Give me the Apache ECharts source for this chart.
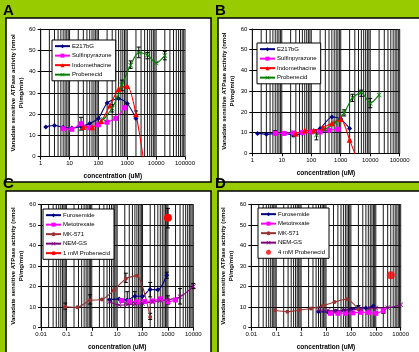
<!DOCTYPE html>
<html><head><meta charset="utf-8">
<script src="https://cdn.jsdelivr.net/npm/echarts@6/dist/echarts.min.js"></script>
<style>html,body{margin:0;padding:0;background:#99cc00;overflow:hidden}#c{width:419px;height:352px}</style>
</head><body><div id="c"></div>
<script>
// ---- Panel A ----
const aE217Conc = [1.5, 3, 6, 12, 25, 50, 100, 200, 500, 1000, 2000];
const aE217Val  = [14, 14.7, 13.8, 13.5, 14.2, 15.6, 18, 25.2, 27.3, 25, 18];
const aSulfConc = [6, 12, 25, 50, 100, 200, 400, 800];
const aSulfVal  = [13.2, 12.9, 15.5, 13.6, 15.0, 16.2, 18, 23];
const aIndoConc = [30, 60, 125, 250, 500, 1000, 2000, 4000];
const aIndoVal  = [14, 13.8, 16.8, 24, 31.8, 33.2, 20, -5];
const aProbConc = [150, 300, 450, 650, 1300, 2500, 5000, 10000, 20000];
const aProbVal  = [17.5, 22.8, 28, 33.7, 43, 49, 47.8, 44, 47.5];
const aErr = [[25, 12.5, 18.5], [650, 31, 36], [1300, 41.5, 45], [2500, 46.5, 51.5], [5000, 46, 49], [20000, 45.5, 49.5], [2000, 18.8, 21.5], [300, 21, 24.5]];
// ---- Panel B ----
const bE217Conc = [1.5, 3, 6, 12, 25, 50, 100, 200, 500, 1000, 2000];
const bE217Val  = [9.6, 9.2, 9.5, 9.6, 8.8, 9.6, 10.5, 12, 17.5, 16.5, 12];
const bSulfConc = [6, 12, 25, 50, 100, 200, 400, 800];
const bSulfVal  = [9.7, 9.6, 9.8, 10, 10.3, 10.3, 11.1, 11.6];
const bIndoConc = [30, 60, 120, 250, 500, 1000, 2000, 4000];
const bIndoVal  = [9.6, 11, 11, 12.5, 14.5, 16.5, 6.5, -5];
const bProbConc = [150, 300, 650, 1300, 2500, 5000, 10000, 20000];
const bProbVal  = [8.8, 11.5, 14.8, 19.5, 26.8, 29.3, 24.2, 28.2];
const bErr = [[150, 6.5, 11.5], [1300, 18, 21], [2500, 25, 28.5], [5000, 27.5, 30.5], [10000, 22, 26.5], [25, 8, 10.5], [6, 9, 11]];
// ---- Panel C ----
const cFuroConc = [5, 12, 25, 50, 100, 200, 400, 900];
const cFuroVal  = [13.6, 14, 13.5, 15.3, 15.3, 18.6, 18.4, 25.5];
const cMetoConc = [15, 30, 60, 120, 250, 500, 1000, 2000];
const cMetoVal  = [13.2, 12.7, 12.6, 12.8, 13, 14, 12.6, 13.5];
const cMkConc   = [0.09, 0.27, 0.85, 2.5, 7.5, 22, 60, 200];
const cMkVal    = [10.2, 9.9, 13.3, 13.7, 18.2, 23.8, 25.3, 5.2];
const cNemConc  = [5, 12, 25, 50, 100, 250, 500, 1000, 3000, 10000];
const cNemVal   = [12.6, 11, 11.2, 11.5, 11.8, 12.5, 13.2, 13.5, 15, 20];
const cProbConc = [1000];
const cProbVal  = [53.5];
const cErr = [[0.09, 9, 12], [0.85, 11.5, 16], [22, 22, 26.5], [200, 4, 7], [900, 24, 27], [200, 15, 22], [25, 12, 17.5], [50, 12.5, 17.5], [3000, 11.5, 19], [10000, 19, 21.5], [1000, 48.5, 58], [1000, 11.5, 15.5]];
// ---- Panel D ----
const dFuroConc = [5, 12, 25, 50, 100, 200, 400, 800];
const dFuroVal  = [7.8, 7.6, 8.1, 8.4, 8.9, 9.8, 9.6, 10.5];
const dMetoConc = [15, 30, 60, 120, 250, 500, 1000, 2000];
const dMetoVal  = [7, 7, 7, 7.2, 7.5, 7.4, 7, 8.2];
const dMkConc   = [0.09, 0.28, 0.85, 2.5, 7.5, 22, 67, 200];
const dMkVal    = [8.5, 7.8, 8.6, 9.3, 10.7, 12.5, 13.8, 9];
const dNemConc  = [5, 12, 25, 50, 100, 250, 500, 1000, 3000, 10000];
const dNemVal   = [8.6, 8.5, 8.2, 8.5, 8.7, 9.1, 9.3, 9.6, 9.7, 11.2];
const dProbConc = [4000];
const dProbVal  = [25.5];
const dErr = [[200, 9, 10.8], [2000, 7, 9]];

const yTicks = [0, 10, 20, 30, 40, 50, 60];
const panelLetters = ['A', 'B', 'C', 'D'];
const xRanges = [[1, 100000], [1, 100000], [0.01, 10000], [0.01, 10000]];

const FONT = 'Liberation Sans, Arial, sans-serif';
const NAVY = '#000080', MAG = '#ff00ff', RED = '#ff0000', GRN = '#008000', BRN = '#993333', PUR = '#800080';
const XSYM = 'path://M0,1L1,0L5,4L9,0L10,1L6,5L10,9L9,10L5,6L1,10L0,9L4,5Z';

function minorVals(lo, hi) {
  const out = [];
  for (let d = lo; d < hi * 1.0001; d *= 10) {
    for (let m = 1; m <= 9; m++) { const v = +(m * d).toPrecision(6); if (v <= hi * 1.0001) out.push([v]); }
  }
  return out;
}
function zip(a, b) { return a.map((v, i) => [v, b[i]]); }

const grids = [
  {left: 40.7, top: 29, width: 144.3, height: 127.7},
  {left: 252.3, top: 29, width: 147.4, height: 124.3},
  {left: 41, top: 204.3, width: 152.3, height: 123.4},
  {left: 251.3, top: 204.3, width: 149.4, height: 123.4}
];

const xAxes = grids.map((g, i) => ({
  type: 'log', logBase: 10, gridIndex: i, min: xRanges[i][0], max: xRanges[i][1],
  axisLine: {show: true, lineStyle: {color: '#000', width: 1}},
  axisTick: {show: true, length: 3, lineStyle: {color: '#000'}},
  axisLabel: {fontSize: 6, color: '#000', fontFamily: FONT, margin: 4,
    formatter: v => String(+(+v).toPrecision(6))},
  splitLine: {show: false},
  name: 'concentration (uM)', nameLocation: 'middle', nameGap: 16,
  nameTextStyle: {fontSize: 6.5, fontWeight: 'bold', color: '#000', fontFamily: FONT}
}));
const yAxes = grids.map((g, i) => ({
  type: 'value', gridIndex: i, min: 0, max: 60, interval: 10,
  axisLine: {show: true, lineStyle: {color: '#000', width: 1}},
  axisTick: {show: true, length: 3, lineStyle: {color: '#000'}},
  axisLabel: {fontSize: 6, color: '#000', fontFamily: FONT, margin: 5},
  splitLine: {show: true, lineStyle: {color: '#000', width: 1}},
  name: 'Vanadate sensitive ATPase activity (nmol\nPi/mg/min)', nameLocation: 'middle', nameGap: 14, nameRotate: 90,
  nameTextStyle: {fontSize: 6, fontWeight: 'bold', color: '#000', fontFamily: FONT, lineHeight: 8, align: 'center'}
}));

const series = [];
grids.forEach((g, i) => {
  series.push({
    type: 'custom', xAxisIndex: i, yAxisIndex: i, silent: true, z: 1,
    data: minorVals(xRanges[i][0], xRanges[i][1]),
    renderItem: (p, api) => {
      const a = api.coord([api.value(0), 0]), b = api.coord([api.value(0), 60]);
      return {type: 'line', shape: {x1: a[0], y1: a[1], x2: b[0], y2: b[1]}, style: {stroke: '#1a1a1a', lineWidth: 1}};
    }
  });
});
function errSeries(i, data) {
  return {
    type: 'custom', xAxisIndex: i, yAxisIndex: i, silent: true, z: 5, data: data,
    renderItem: (p, api) => {
      const x = api.value(0);
      const a = api.coord([x, api.value(1)]), b = api.coord([x, api.value(2)]);
      const st = {stroke: '#000', lineWidth: 1};
      return {type: 'group', children: [
        {type: 'line', shape: {x1: a[0], y1: a[1], x2: b[0], y2: b[1]}, style: st},
        {type: 'line', shape: {x1: a[0] - 2, y1: a[1], x2: a[0] + 2, y2: a[1]}, style: st},
        {type: 'line', shape: {x1: b[0] - 2, y1: b[1], x2: b[0] + 2, y2: b[1]}, style: st}
      ]};
    }
  };
}
function lineS(i, name, color, sym, size, xs, ys) {
  return {type: 'line', name: name, xAxisIndex: i, yAxisIndex: i, data: zip(xs, ys), smooth: 0.25,
    symbol: sym, symbolSize: size, showSymbol: true, z: 10,
    lineStyle: {color: color, width: 1.1}, itemStyle: {color: color}, emphasis: {disabled: true}};
}
series.push(errSeries(0, aErr), errSeries(1, bErr), errSeries(2, cErr), errSeries(3, dErr));
series.push(
  lineS(0, 'E217bG', NAVY, 'diamond', 5, aE217Conc, aE217Val),
  lineS(0, 'Sulfinpyrazone', MAG, 'rect', 5, aSulfConc, aSulfVal),
  lineS(0, 'Indomethacine', RED, 'triangle', 6, aIndoConc, aIndoVal),
  lineS(0, 'Probenecid', GRN, XSYM, 5, aProbConc, aProbVal),
  lineS(1, 'E217bG', NAVY, 'diamond', 5, bE217Conc, bE217Val),
  lineS(1, 'Sulfinpyrazone', MAG, 'rect', 5, bSulfConc, bSulfVal),
  lineS(1, 'Indomethacine', RED, 'triangle', 6, bIndoConc, bIndoVal),
  lineS(1, 'Probenecid', GRN, XSYM, 5, bProbConc, bProbVal),
  lineS(2, 'Furosemide', NAVY, 'diamond', 5, cFuroConc, cFuroVal),
  lineS(2, 'Metotrexate', MAG, 'rect', 5, cMetoConc, cMetoVal),
  lineS(2, 'MK-571', BRN, 'circle', 4, cMkConc, cMkVal),
  lineS(2, 'NEM-GS', PUR, XSYM, 5, cNemConc, cNemVal),
  lineS(2, '1 mM Probenecid', RED, 'circle', 8, cProbConc, cProbVal),
  lineS(3, 'Furosemide', NAVY, 'diamond', 5, dFuroConc, dFuroVal),
  lineS(3, 'Metotrexate', MAG, 'rect', 5, dMetoConc, dMetoVal),
  lineS(3, 'MK-571', BRN, 'circle', 4, dMkConc, dMkVal),
  lineS(3, 'NEM-GS', PUR, XSYM, 5, dNemConc, dNemVal),
  {type: 'scatter', name: '4 mM Probenecid', xAxisIndex: 3, yAxisIndex: 3, data: zip(dProbConc, dProbVal),
   symbol: 'circle', symbolSize: 8, itemStyle: {color: RED}, z: 10}
);

function legend(left, top, names) {
  return {left: left, top: top, orient: 'vertical', data: names, itemWidth: 15, itemHeight: 5, itemGap: 2.2,
    padding: [2.5, 4, 2.5, 2], borderColor: '#000', borderWidth: 1, backgroundColor: '#fff', borderRadius: 0,
    selectedMode: false, textStyle: {fontSize: 6, lineHeight: 7.3, color: '#000', fontFamily: FONT, padding: [0, 0, 0, -3]}, z: 20};
}
const legends = [
  legend(52, 40, ['E217bG', 'Sulfinpyrazone', 'Indomethacine', 'Probenecid']),
  legend(257, 43, ['E217bG', 'Sulfinpyrazone', 'Indomethacine', 'Probenecid']),
  legend(43, 209, ['Furosemide', 'Metotrexate', 'MK-571', 'NEM-GS', '1 mM Probenecid']),
  legend(258, 208, ['Furosemide', 'Metotrexate', 'MK-571', 'NEM-GS', '4 mM Probenecid'])
];

const boxes = [[6, 18, 205, 164], [218, 18, 205, 164], [6, 191, 205, 165], [218, 191, 205, 165]];
const graphic = [];
boxes.forEach((b, i) => {
  graphic.push({type: 'rect', shape: {x: b[0], y: b[1], width: b[2], height: b[3]}, style: {fill: '#fff', stroke: '#000', lineWidth: 1.5}, z: -10, silent: true});
  graphic.push({type: 'text', x: b[0] - 3, y: b[1] - 15, style: {text: panelLetters[i], font: 'bold 15px ' + FONT, fill: '#000'}, z: -9, silent: true});
});

const chart = echarts.init(document.getElementById('c'), null, {renderer: 'canvas'});
chart.setOption({
  animation: false, backgroundColor: '#99cc00',
  grid: grids.map(g => Object.assign({containLabel: false}, g)),
  xAxis: xAxes, yAxis: yAxes, legend: legends, series: series, graphic: graphic
});
</script></body></html>
